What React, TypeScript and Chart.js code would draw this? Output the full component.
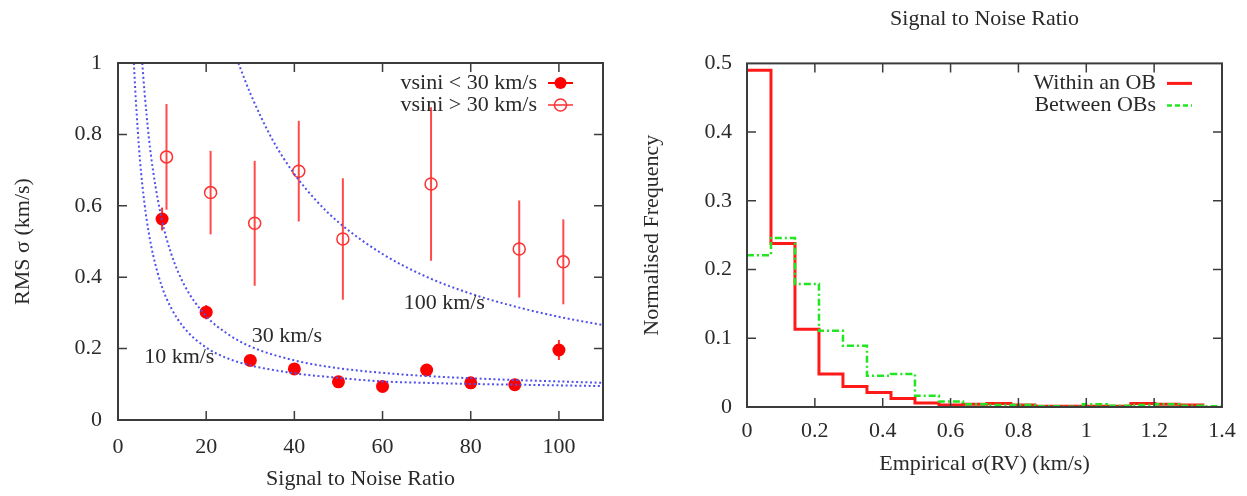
import { useEffect, useRef } from 'react';
import { Chart, registerables } from 'chart.js';
Chart.register(...registerables);

const FONT_FAMILY = '"Liberation Serif", "Times New Roman", serif';
const FONT_SIZE = 22;
const TEXT_COLOR = '#2a2a2a';

// ---------- Left chart data ----------
const snrFilled = [10, 20, 30, 40, 50, 60, 70, 80, 90, 100];
const rmsFilled = [0.563, 0.302, 0.167, 0.143, 0.107, 0.094, 0.14, 0.104, 0.099, 0.196];
const errFilled = [0.032, 0.02, 0.01, 0.008, 0.008, 0.008, 0.01, 0.008, 0.008, 0.028];

const snrOpen = [11, 21, 31, 41, 51, 71, 91, 101];
const rmsOpen = [0.737, 0.637, 0.551, 0.697, 0.507, 0.661, 0.479, 0.443];
const errOpen = [0.148, 0.117, 0.175, 0.141, 0.17, 0.215, 0.136, 0.119];

const curveSnr10 = [3.6, 4, 5, 6, 7, 8, 10, 12, 15, 20, 25, 30, 40, 50, 60, 70, 80, 90, 100, 110];
const curve10 = [1.0, 0.905, 0.726, 0.607, 0.523, 0.46, 0.372, 0.315, 0.258, 0.203, 0.172, 0.153, 0.131, 0.118, 0.108, 0.104, 0.101, 0.099, 0.097, 0.095];
const curveSnr30 = [5.5, 6, 7, 8, 10, 12, 15, 20, 25, 30, 40, 50, 60, 70, 80, 90, 100, 110];
const curve30 = [1.0, 0.921, 0.791, 0.694, 0.558, 0.468, 0.379, 0.291, 0.24, 0.206, 0.167, 0.145, 0.132, 0.123, 0.117, 0.112, 0.108, 0.104];
const curveSnr100 = [27.3, 30, 35, 40, 45, 50, 60, 70, 80, 90, 100, 110];
const curve100 = [1.0, 0.915, 0.786, 0.689, 0.614, 0.554, 0.465, 0.401, 0.354, 0.318, 0.289, 0.266];

const leftXTicks = [0, 20, 40, 60, 80, 100];
const leftYTicks = [0, 0.2, 0.4, 0.6, 0.8, 1];

// ---------- Right chart data ----------
const binEdges = [0, 0.0707, 0.1414, 0.2121, 0.2828, 0.3536, 0.4243, 0.495, 0.5657, 0.6364, 0.7071, 0.7778, 0.8485, 0.9192, 0.9899, 1.0607, 1.1314, 1.2021, 1.2728, 1.3435, 1.4142];
const withinOB = [0.49, 0.238, 0.113, 0.048, 0.03, 0.021, 0.0125, 0.006, 0.003, 0.004, 0.005, 0.003, 0.001, 0.001, 0.001, 0.001, 0.005, 0.004, 0.003];
const betweenOBs = [0.221, 0.246, 0.179, 0.111, 0.089, 0.0455, 0.048, 0.0165, 0.008, 0.004, 0.003, 0.003, 0.001, 0.0005, 0.004, 0.002, 0.003, 0.004, 0.002, 0.001];

const rightXTicks = [0, 0.2, 0.4, 0.6, 0.8, 1, 1.2, 1.4];
const rightYTicks = [0, 0.1, 0.2, 0.3, 0.4, 0.5];

const font = { family: FONT_FAMILY, size: FONT_SIZE };
const fmt = (v: number) => String(Number(v.toFixed(2)));

function histPoints(vals: number[]) {
  const pts: { x: number; y: number }[] = [];
  vals.forEach((v, i) => pts.push({ x: binEdges[i], y: v }));
  pts.push({ x: binEdges[vals.length], y: vals[vals.length - 1] });
  pts.push({ x: binEdges[vals.length], y: 0 });
  return pts;
}

const framePlugin = {
  id: 'frame',
  afterDatasetsDraw(chart: any) {
    const { ctx, chartArea: a, scales } = chart;
    ctx.save();
    ctx.strokeStyle = '#3c3c3c';
    ctx.lineWidth = 1.5;
    const L = 9;
    ctx.beginPath();
    scales.x.ticks.forEach((t: any) => {
      const px = scales.x.getPixelForValue(t.value);
      if (px <= a.left + 1 || px >= a.right - 1) return;
      ctx.moveTo(px, a.bottom); ctx.lineTo(px, a.bottom - L);
      ctx.moveTo(px, a.top); ctx.lineTo(px, a.top + L);
    });
    scales.y.ticks.forEach((t: any) => {
      const py = scales.y.getPixelForValue(t.value);
      if (py <= a.top + 1 || py >= a.bottom - 1) return;
      ctx.moveTo(a.left, py); ctx.lineTo(a.left + L, py);
      ctx.moveTo(a.right, py); ctx.lineTo(a.right - L, py);
    });
    ctx.stroke();
    ctx.lineWidth = 2;
    ctx.strokeRect(a.left, a.top, a.right - a.left, a.bottom - a.top);
    ctx.restore();
  },
};

const errorBarPlugin = {
  id: 'errorBars',
  beforeDatasetsDraw(chart: any) {
    const { ctx, scales } = chart;
    ctx.save();
    chart.data.datasets.forEach((ds: any) => {
      if (!ds.errors) return;
      ctx.strokeStyle = ds.errorColor;
      ctx.lineWidth = 2;
      ds.data.forEach((p: any, i: number) => {
        const e = ds.errors[i];
        const px = scales.x.getPixelForValue(p.x);
        ctx.beginPath();
        ctx.moveTo(px, scales.y.getPixelForValue(p.y - e));
        ctx.lineTo(px, scales.y.getPixelForValue(p.y + e));
        ctx.stroke();
      });
    });
    ctx.restore();
  },
};

const annotationPlugin = {
  id: 'annotations',
  afterDatasetsDraw(chart: any, _args: any, opts: any) {
    const { ctx, chartArea: a, scales } = chart;
    ctx.save();
    ctx.font = `${FONT_SIZE}px ${FONT_FAMILY}`;
    ctx.fillStyle = TEXT_COLOR;
    ctx.textBaseline = 'middle';
    (opts.labels || []).forEach((l: any) => {
      ctx.textAlign = 'center';
      ctx.fillText(l.text, scales.x.getPixelForValue(l.x), scales.y.getPixelForValue(l.y));
    });
    (opts.legend || []).forEach((item: any, i: number) => {
      const y = a.top + 20 + i * 22;
      const tx = a.right - 66;
      ctx.textAlign = 'right';
      ctx.fillStyle = TEXT_COLOR;
      ctx.fillText(item.text, tx, y);
      const x0 = tx + 11, x1 = tx + 36;
      ctx.strokeStyle = item.color;
      ctx.lineWidth = item.lineWidth;
      ctx.setLineDash(item.dash || []);
      ctx.beginPath();
      ctx.moveTo(x0, y); ctx.lineTo(x1, y);
      ctx.stroke();
      ctx.setLineDash([]);
      if (item.marker) {
        const cx = (x0 + x1) / 2;
        ctx.beginPath();
        ctx.arc(cx, y, 6, 0, Math.PI * 2);
        if (item.marker === 'filled') { ctx.fillStyle = item.color; ctx.fill(); }
        else { ctx.lineWidth = 1.5; ctx.stroke(); }
      }
    });
    ctx.restore();
  },
};

function useChart(ref: any, config: any) {
  useEffect(() => {
    const chart = new Chart(ref.current, config);
    return () => chart.destroy();
  }, []);
}

export default function App() {
  const leftRef = useRef<HTMLCanvasElement>(null);
  const rightRef = useRef<HTMLCanvasElement>(null);

  const curveDs = (xs: number[], ys: number[]) => ({
    type: 'line',
    data: xs.map((x, i) => ({ x, y: ys[i] })),
    showLine: true,
    borderColor: '#5050ee',
    borderWidth: 2,
    borderDash: [2, 2.6],
    pointRadius: 0,
    cubicInterpolationMode: 'monotone',
    fill: false,
  });

  useChart(leftRef, {
    type: 'scatter',
    data: {
      datasets: [
        curveDs(curveSnr10, curve10),
        curveDs(curveSnr30, curve30),
        curveDs(curveSnr100, curve100),
        {
          label: 'vsini > 30 km/s',
          data: snrOpen.map((x, i) => ({ x, y: rmsOpen[i] })),
          errors: errOpen,
          errorColor: '#ff4a4a',
          pointRadius: 6,
          pointBorderWidth: 1.5,
          pointBackgroundColor: 'rgba(0,0,0,0)',
          pointBorderColor: '#ff3030',
        },
        {
          label: 'vsini < 30 km/s',
          data: snrFilled.map((x, i) => ({ x, y: rmsFilled[i] })),
          errors: errFilled,
          errorColor: '#ff3030',
          pointRadius: 6.5,
          pointBorderWidth: 0,
          pointBackgroundColor: '#ff0000',
          pointBorderColor: '#ff0000',
        },
      ],
    },
    options: {
      animation: false,
      responsive: false,
      maintainAspectRatio: false,
      layout: { padding: { top: 63, right: 17, left: 0, bottom: 0 } },
      plugins: {
        legend: { display: false },
        tooltip: { enabled: false },
        annotations: {
          labels: [
            { text: '10 km/s', x: 13.9, y: 0.176 },
            { text: '30 km/s', x: 38.3, y: 0.235 },
            { text: '100 km/s', x: 74, y: 0.328 },
          ],
          legend: [
            { text: 'vsini < 30 km/s', color: '#ff0000', lineWidth: 2, marker: 'filled' },
            { text: 'vsini > 30 km/s', color: '#ff3030', lineWidth: 1.5, marker: 'open' },
          ],
        },
      },
      scales: {
        x: {
          type: 'linear', min: 0, max: 110,
          afterBuildTicks: (s: any) => { s.ticks = leftXTicks.map((value) => ({ value })); },
          afterFit: (s: any) => { s.height = 76; },
          grid: { display: false, drawTicks: false },
          border: { display: false },
          ticks: { font, color: TEXT_COLOR, padding: 14, callback: (v: number) => fmt(v) },
          title: { display: true, text: 'Signal to Noise Ratio', font, color: TEXT_COLOR, padding: { top: 0, bottom: 4 } },
        },
        y: {
          type: 'linear', min: 0, max: 1,
          afterBuildTicks: (s: any) => { s.ticks = leftYTicks.map((value) => ({ value })); },
          afterFit: (s: any) => { s.width = 118; },
          grid: { display: false, drawTicks: false },
          border: { display: false },
          ticks: { font, color: TEXT_COLOR, padding: 16, callback: (v: number) => fmt(v) },
          title: { display: true, text: 'RMS σ (km/s)', font, color: TEXT_COLOR, padding: { top: 10, bottom: 0 } },
        },
      },
    },
    plugins: [errorBarPlugin, annotationPlugin, framePlugin],
  });

  useChart(rightRef, {
    type: 'line',
    data: {
      datasets: [
        {
          label: 'Between OBs',
          data: histPoints(betweenOBs),
          stepped: 'before',
          borderColor: '#22e622',
          borderWidth: 2.5,
          borderDash: [7, 3, 2, 3],
          pointRadius: 0,
          fill: false,
        },
        {
          label: 'Within an OB',
          data: histPoints(withinOB),
          stepped: 'before',
          borderColor: '#ff1a1a',
          borderWidth: 3,
          pointRadius: 0,
          fill: false,
        },
      ],
    },
    options: {
      animation: false,
      responsive: false,
      maintainAspectRatio: false,
      layout: { padding: { top: 0, right: 25, left: 0, bottom: 0 } },
      plugins: {
        legend: { display: false },
        tooltip: { enabled: false },
        title: {
          display: true, fullSize: false, text: 'Signal to Noise Ratio', font: { ...font, weight: 'normal' }, color: TEXT_COLOR,
          padding: { top: 6, bottom: 31 },
        },
        annotations: {
          legend: [
            { text: 'Within an OB', color: '#ff1a1a', lineWidth: 3 },
            { text: 'Between OBs', color: '#22e622', lineWidth: 2.5, dash: [5, 3] },
          ],
        },
      },
      scales: {
        x: {
          type: 'linear', min: 0, max: 1.4,
          afterBuildTicks: (s: any) => { s.ticks = rightXTicks.map((value) => ({ value })); },
          afterFit: (s: any) => { s.height = 89; },
          grid: { display: false, drawTicks: false },
          border: { display: false },
          ticks: { font, color: TEXT_COLOR, padding: 11, callback: (v: number) => fmt(v) },
          title: { display: true, text: 'Empirical σ(RV) (km/s)', font, color: TEXT_COLOR, padding: { top: 0, bottom: 19 } },
        },
        y: {
          type: 'linear', min: 0, max: 0.5,
          afterBuildTicks: (s: any) => { s.ticks = rightYTicks.map((value) => ({ value })); },
          afterFit: (s: any) => { s.width = 127; },
          grid: { display: false, drawTicks: false },
          border: { display: false },
          ticks: { font, color: TEXT_COLOR, padding: 15, callback: (v: number) => fmt(v) },
          title: { display: true, text: 'Normalised Frequency', font, color: TEXT_COLOR, padding: { top: 19, bottom: 0 } },
        },
      },
    },
    plugins: [annotationPlugin, framePlugin],
  });

  return (
    <div style={{ position: 'absolute', left: 0, top: 0, width: 1247, height: 496, background: '#fff' }}>
      <canvas ref={leftRef} width={620} height={496} style={{ position: 'absolute', left: 0, top: 0, width: 620, height: 496 }} />
      <canvas ref={rightRef} width={627} height={496} style={{ position: 'absolute', left: 620, top: 0, width: 627, height: 496 }} />
    </div>
  );
}
